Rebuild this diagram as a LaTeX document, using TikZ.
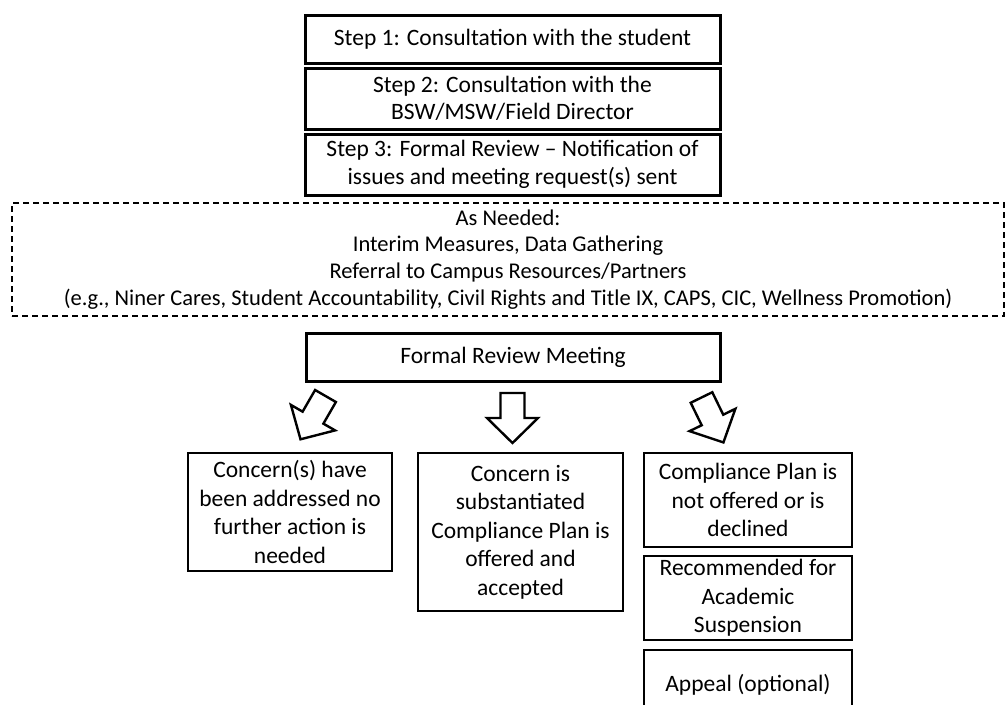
\documentclass[tikz,border=0pt]{standalone}
\usepackage{fontspec}
\setmainfont{Carlito}

\begin{document}
\begin{tikzpicture}[
    % One unit is one pixel of the page, y runs downwards.
    x=1pt,
    y=-1pt
]
    % --- Style Definitions ---
    % 'stepbox' is the solid box, 'needbox' the dashed one.
    % 'hollow' is used for the outlined block arrows.
    \tikzstyle{stepbox} = [draw, line width=3pt, black, rectangle, align=center, inner sep=0pt, font=\fontsize{23.5}{27.5}\selectfont]
    \tikzstyle{outcome} = [stepbox, line width=2.8pt, font=\fontsize{23.5}{28.5}\selectfont]
    \tikzstyle{needbox} = [draw, line width=1.2pt, black, dash pattern=on 6pt off 4pt, rectangle, align=center, inner sep=0pt, font=\fontsize{22.5}{26.8}\selectfont]
    \tikzstyle{hollow} = [draw, line width=2.4pt, black, line join=miter, fill=white]

    % --- Page Size ---
    \useasboundingbox (0,0) rectangle (1006,704);

    % --- Steps ---
    \node (step1) [stepbox, minimum width=415, minimum height=48] at (512.5,39)
        {Step 1: Consultation with the student};
    \node (step2) [stepbox, minimum width=415, minimum height=61] at (512.5,98.5)
        {Step 2: Consultation with the\\BSW/MSW/Field Director};
    \node (step3) [stepbox, minimum width=415, minimum height=61] at (512.5,164.5)
        {Step 3: Formal Review -- Notification of\\issues and meeting request(s) sent};

    % --- As Needed ---
    \node (needed) [needbox, minimum width=992, minimum height=113] at (508,259.5)
        {As Needed:\\Interim Measures, Data Gathering\\Referral to Campus Resources/Partners\\(e.g., Niner Cares, Student Accountability, Civil Rights and Title IX, CAPS, CIC, Wellness Promotion)};

    % --- Meeting ---
    \node (meeting) [stepbox, minimum width=414, minimum height=48] at (513,357)
        {Formal Review Meeting};

    % --- Block Arrows ---
    % Each arrow is drawn pointing down from its tail and then turned.
    \def\shaft{12}
    \def\head{25.5}
    \coordinate (tailL) at (325.5,396);
    \coordinate (tailM) at (512.5,393);
    \coordinate (tailR) at (701.5,397.5);
    \foreach \tail/\turn in {tailL/-30, tailM/0, tailR/26}
        \draw[hollow, shift={(\tail)}, rotate=\turn]
            (-\shaft,0) -- (\shaft,0) -- (\shaft,25) -- (\head,25) -- (0,50)
            -- (-\head,25) -- (-\shaft,25) -- cycle;

    % --- Outcomes ---
    \node (addressed) [outcome, minimum width=204, minimum height=118] at (290,512)
        {Concern(s) have\\been addressed no\\further action is\\needed};
    \node (accepted) [outcome, minimum width=205, minimum height=158] at (520.5,532)
        {Concern is\\substantiated\\Compliance Plan is\\offered and\\accepted};
    \node (declined) [outcome, minimum width=208, minimum height=94] at (748,500)
        {Compliance Plan is\\not offered or is\\declined};
    \node (suspension) [outcome, minimum width=208, minimum height=84] at (748,598)
        {Recommended for\\Academic\\Suspension};
    \node (appeal) [outcome, minimum width=208, minimum height=70] at (748,685)
        {Appeal (optional)};
\end{tikzpicture}
\end{document}
